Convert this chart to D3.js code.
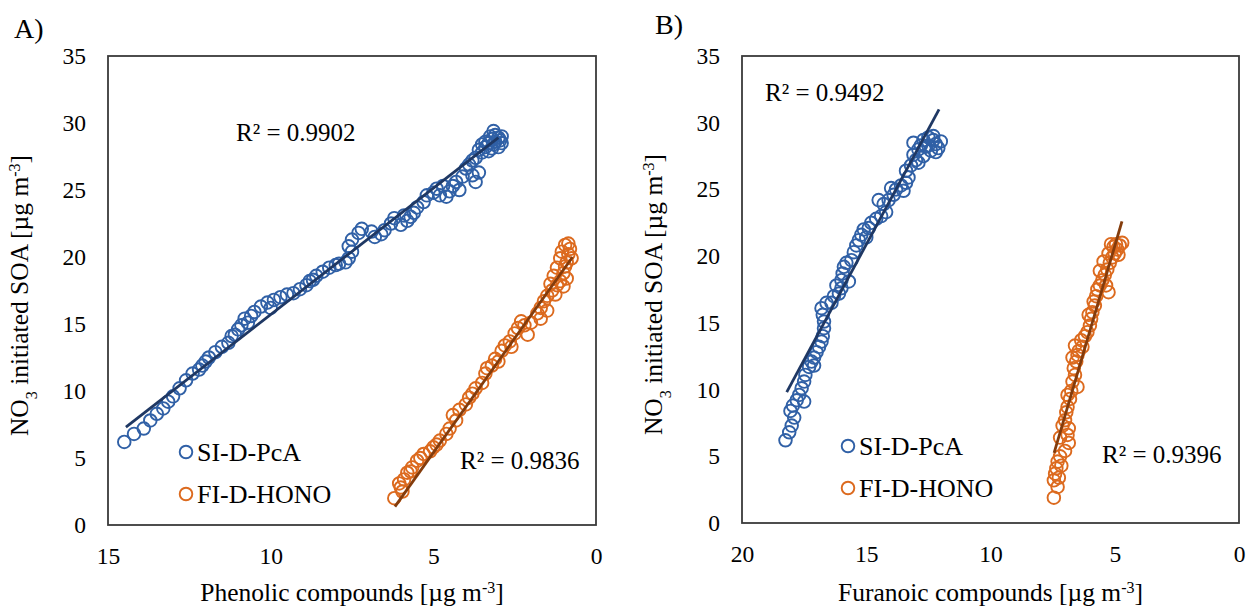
<!DOCTYPE html>
<html>
<head>
<meta charset="utf-8">
<script src="https://cdn.jsdelivr.net/npm/d3@7/dist/d3.min.js"></script>
<style>
  body { margin: 0; background: #fff; }
  svg text { font-family: "Liberation Serif", "Times New Roman", serif; fill: #000; }
</style>
</head>
<body>
<div id="viz"></div>
<script>
var width = 1247,
    height = 608;

// tick labels
var yTicks = [0, 5, 10, 15, 20, 25, 30, 35];
var xTicksA = [15, 10, 5, 0];
var xTicksB = [20, 15, 10, 5, 0];

var seriesNames = ["SI-D-PcA", "FI-D-HONO"];

// Panel A: phenolic compounds vs NO3 initiated SOA
var phenolicSI = [
  [14.5,6.2],[14.2,6.8],[13.9,7.2],[13.7,7.8],[13.5,8.3],[13.3,8.7],[13.15,9.2],[13.0,9.6],
  [12.8,10.2],[12.6,10.8],[12.4,11.3],[12.2,11.6],[12.1,11.9],[12.0,12.2],[11.9,12.5],[11.7,12.9],
  [11.5,13.3],[11.3,13.6],[11.2,14.1],[11.1,14.2],[11.0,14.6],[10.9,14.9],[10.8,15.4],[10.7,15.1],
  [10.6,15.6],[10.5,15.9],[10.3,16.3],[10.1,16.6],[10.0,16.2],[9.9,16.8],[9.7,17.0],[9.5,17.2],
  [9.3,17.3],[9.1,17.6],[8.9,17.9],[8.8,18.2],[8.7,18.3],[8.6,18.6],[8.4,18.9],[8.2,19.2],
  [8.0,19.4],[7.9,19.5],[7.7,19.6],[7.6,19.9],[7.5,20.4],[7.6,20.8],[7.5,21.3],[7.3,21.8],
  [7.2,22.1],[6.9,21.9],[6.8,21.5],[6.6,21.7],[6.5,22.0],[6.3,22.5],[6.2,22.9],[6.0,22.4],
  [5.9,23.1],[5.8,22.7],[5.7,23.0],[5.6,23.3],[5.5,23.7],[5.3,24.1],[5.2,24.6],[5.0,24.8],
  [4.9,25.1],[4.8,24.6],[4.7,25.3],[4.6,24.5],[4.5,24.9],[4.4,25.3],[4.3,25.6],[4.2,25.0],
  [4.1,26.0],[4.0,26.6],[3.9,26.9],[3.8,27.2],[3.7,27.4],[3.8,26.1],[3.7,25.6],[3.6,26.3],
  [3.6,28.0],[3.5,27.8],[3.5,28.4],[3.4,28.2],[3.4,28.6],[3.3,28.5],[3.3,27.9],[3.25,29.0],
  [3.2,28.8],[3.2,28.1],[3.15,28.4],[3.1,28.6],[3.1,29.1],[3.0,28.9],[3.0,28.2],[2.95,28.7],
  [2.9,29.0],[2.9,28.5],[3.15,29.4]
];
var phenolicFI = [
  [6.2,2.0],[6.05,3.1],[6.0,2.8],[5.95,2.5],[5.9,3.4],[5.8,3.9],[5.7,4.0],[5.65,4.3],
  [5.5,4.8],[5.4,5.0],[5.3,5.3],[5.1,5.5],[5.0,5.8],[4.9,6.0],[4.8,6.3],[4.6,6.8],
  [4.5,7.2],[4.4,8.2],[4.3,7.8],[4.2,8.6],[4.0,9.0],[3.9,9.5],[3.8,9.8],[3.7,10.2],
  [3.5,10.6],[3.4,11.3],[3.35,11.7],[3.2,11.9],[3.1,12.4],[3.0,12.2],[2.9,13.0],[2.8,13.4],
  [2.65,13.7],[2.6,13.3],[2.5,14.3],[2.4,14.7],[2.3,15.2],[2.2,14.9],[2.1,14.2],[2.0,15.1],
  [1.8,15.8],[1.7,16.2],[1.7,15.4],[1.6,16.7],[1.5,17.1],[1.5,16.0],[1.4,18.0],[1.35,17.5],
  [1.3,18.6],[1.25,17.2],[1.2,17.9],[1.2,19.2],[1.1,18.2],[1.1,19.9],[1.05,20.4],[1.0,18.8],
  [1.0,17.8],[0.95,19.3],[0.95,20.9],[0.9,19.6],[0.9,18.4],[0.85,20.2],[0.85,21.0],[0.8,20.6],
  [0.75,19.9]
];

// Panel B: furanoic compounds vs NO3 initiated SOA
var furanoicSI = [
  [18.25,6.2],[18.1,6.8],[18.0,7.3],[17.9,7.9],[18.05,8.4],[17.95,8.8],[17.8,9.2],[17.5,9.1],
  [17.7,9.6],[17.6,10.1],[17.5,10.6],[17.45,11.1],[17.3,11.7],[17.1,11.8],[17.2,12.1],[17.1,12.4],
  [17.0,12.8],[16.9,13.2],[16.8,13.6],[16.75,14.0],[16.7,14.6],[16.7,15.1],[16.75,15.6],[16.8,16.1],
  [16.6,16.5],[16.4,16.5],[16.3,17.0],[16.2,17.8],[16.1,17.2],[16.0,17.6],[16.0,18.2],[15.95,18.7],
  [15.9,19.2],[15.8,19.5],[15.7,18.1],[15.6,19.7],[15.5,20.3],[15.4,20.8],[15.3,21.2],[15.2,21.6],
  [15.1,22.0],[15.0,21.4],[14.9,22.1],[14.8,22.5],[14.6,22.8],[14.5,24.2],[14.4,23.0],[14.2,23.3],
  [14.3,23.9],[14.1,24.2],[13.9,24.6],[14.0,25.1],[13.8,25.0],[13.6,25.3],[13.5,24.9],[13.4,25.5],
  [13.3,25.9],[13.4,26.4],[13.2,26.8],[13.0,27.2],[13.1,27.6],[13.1,28.5],[12.9,28.0],[12.9,27.0],
  [12.8,28.3],[12.7,28.7],[12.7,27.5],[12.6,28.2],[12.5,28.9],[12.5,28.3],[12.4,27.9],[12.3,28.7],
  [12.3,29.0],[12.2,28.4],[12.2,27.8],[12.1,28.1],[12.0,28.6]
];
var furanoicFI = [
  [7.45,1.9],[7.3,2.7],[7.45,3.2],[7.25,3.4],[7.4,3.7],[7.35,4.1],[7.15,4.3],[7.3,4.6],
  [7.2,5.0],[7.0,5.4],[6.85,6.0],[7.2,6.4],[6.9,6.6],[6.85,7.1],[7.1,7.3],[7.0,7.7],
  [6.95,8.3],[6.9,8.7],[6.8,9.3],[6.9,9.6],[6.75,9.9],[6.5,10.2],[6.7,10.6],[6.6,11.1],
  [6.65,11.6],[6.55,12.1],[6.7,12.4],[6.5,12.6],[6.45,12.9],[6.6,13.3],[6.3,13.2],[6.35,13.7],
  [6.2,14.0],[6.1,14.3],[6.0,14.8],[5.95,15.3],[6.05,15.6],[5.9,15.8],[5.8,16.3],[5.85,16.6],
  [5.75,17.0],[5.35,17.8],[5.25,17.3],[5.7,17.5],[5.6,17.8],[5.5,18.2],[5.6,18.9],[5.4,18.6],
  [5.3,19.0],[5.45,19.6],[5.2,19.5],[5.1,19.9],[5.25,20.2],[5.0,20.2],[4.85,20.1],[4.9,20.5],
  [5.05,20.7],[4.8,20.8],[4.7,21.0],[5.15,20.9],[4.95,20.9]
];

// linear trend lines: [slope, intercept, xMin, xMax]
var trendPhenolicSI = [-1.886, 34.56, 3.0, 14.45];
var trendPhenolicFI = [-3.412, 22.46, 0.72, 6.18];
var trendFuranoicSI = [-3.458, 72.74, 12.07, 18.2];
var trendFuranoicFI = [-6.355, 52.53, 4.71, 7.44];

var r2Labels = ["R² = 0.9902", "R² = 0.9836", "R² = 0.9492", "R² = 0.9396"];

var colors = {"SI-D-PcA": "#3060A6", "FI-D-HONO": "#DC6A1E"};
var trendColors = {"SI-D-PcA": "#1F3864", "FI-D-HONO": "#843C0C"};

var svg = d3.select("div#viz")
    .append("svg")
    .attr("width", width)
    .attr("height", height);

var panels = [
  {
    label: "A)", labelPos: [14, 38],
    left: 108, right: 596, top: 56, bottom: 525,
    xMax: 15, xTicks: xTicksA,
    title: "Phenolic compounds [µg m",
    data: [phenolicSI, phenolicFI],
    trends: [trendPhenolicSI, trendPhenolicFI],
    r2: [{text: r2Labels[0], x: 236, y: 141}, {text: r2Labels[1], x: 460, y: 469}],
    legend: [186, 452]
  },
  {
    label: "B)", labelPos: [655, 34],
    left: 742, right: 1239, top: 56, bottom: 523,
    xMax: 20, xTicks: xTicksB,
    title: "Furanoic compounds [µg m",
    data: [furanoicSI, furanoicFI],
    trends: [trendFuranoicSI, trendFuranoicFI],
    r2: [{text: r2Labels[2], x: 765, y: 101}, {text: r2Labels[3], x: 1102, y: 463}],
    legend: [848, 446]
  }
];

panels.forEach(function(p) {
  var x = d3.scaleLinear().domain([p.xMax, 0]).range([p.left, p.right]);
  var y = d3.scaleLinear().domain([0, 35]).range([p.bottom, p.top]);
  var g = svg.append("g");

  // frame
  g.append("rect")
      .attr("x", p.left)
      .attr("y", p.top)
      .attr("width", p.right - p.left)
      .attr("height", p.bottom - p.top)
      .attr("fill", "none")
      .attr("stroke", "#3a3a3a")
      .attr("stroke-width", 1.8);

  var xAxis = g.append("g")
      .attr("transform", "translate(0," + p.bottom + ")")
      .call(d3.axisBottom(x).tickValues(p.xTicks).tickSize(0).tickPadding(22).tickFormat(d3.format("d")));
  var yAxis = g.append("g")
      .attr("transform", "translate(" + p.left + ",0)")
      .call(d3.axisLeft(y).tickValues(yTicks).tickSize(0).tickPadding(22).tickFormat(d3.format("d")));
  [xAxis, yAxis].forEach(function(a) {
    a.select(".domain").remove();
    a.selectAll("text")
        .attr("font-family", "Liberation Serif")
        .attr("font-size", 23.5)
        .attr("fill", "#000");
  });

  // points
  p.data.forEach(function(series, i) {
    g.append("g")
        .selectAll("circle")
        .data(series)
        .enter().append("circle")
        .attr("cx", function(d) { return x(d[0]); })
        .attr("cy", function(d) { return y(d[1]); })
        .attr("r", 6.3)
        .attr("fill", "none")
        .attr("stroke", colors[seriesNames[i]])
        .attr("stroke-width", 1.9);
  });

  // trend lines
  p.trends.forEach(function(t, i) {
    g.append("line")
        .attr("x1", x(t[2]))
        .attr("y1", y(t[0] * t[2] + t[1]))
        .attr("x2", x(t[3]))
        .attr("y2", y(t[0] * t[3] + t[1]))
        .attr("stroke", trendColors[seriesNames[i]])
        .attr("stroke-width", 2.8);
  });

  // R² labels
  p.r2.forEach(function(r) {
    g.append("text")
        .attr("x", r.x)
        .attr("y", r.y)
        .attr("font-size", 25)
        .text(r.text);
  });

  // legend
  seriesNames.forEach(function(name, i) {
    var ly = p.legend[1] + i * 42;
    g.append("circle")
        .attr("cx", p.legend[0])
        .attr("cy", ly)
        .attr("r", 6.3)
        .attr("fill", "none")
        .attr("stroke", colors[name])
        .attr("stroke-width", 1.9);
    g.append("text")
        .attr("x", p.legend[0] + 11)
        .attr("y", ly + 9)
        .attr("font-size", 26)
        .text(name);
  });

  // axis titles
  var xt = g.append("text")
      .attr("x", (p.left + p.right) / 2)
      .attr("y", 601)
      .attr("text-anchor", "middle")
      .attr("font-size", 25.5)
      .text(p.title);
  xt.append("tspan").attr("baseline-shift", "super").attr("font-size", 16).text("-3");
  xt.append("tspan").text("]");

  var yt = g.append("text")
      .attr("transform", "translate(" + (p.left - 80) + "," + ((p.top + p.bottom) / 2 + 5) + ") rotate(-90)")
      .attr("text-anchor", "middle")
      .attr("font-size", 25.5)
      .text("NO");
  yt.append("tspan").attr("baseline-shift", "sub").attr("font-size", 16).text("3");
  yt.append("tspan").text(" initiated SOA [µg m");
  yt.append("tspan").attr("baseline-shift", "super").attr("font-size", 16).text("-3");
  yt.append("tspan").text("]");

  // panel label
  svg.append("text")
      .attr("x", p.labelPos[0])
      .attr("y", p.labelPos[1])
      .attr("font-size", 28)
      .text(p.label);
});
</script>
</body>
</html>
